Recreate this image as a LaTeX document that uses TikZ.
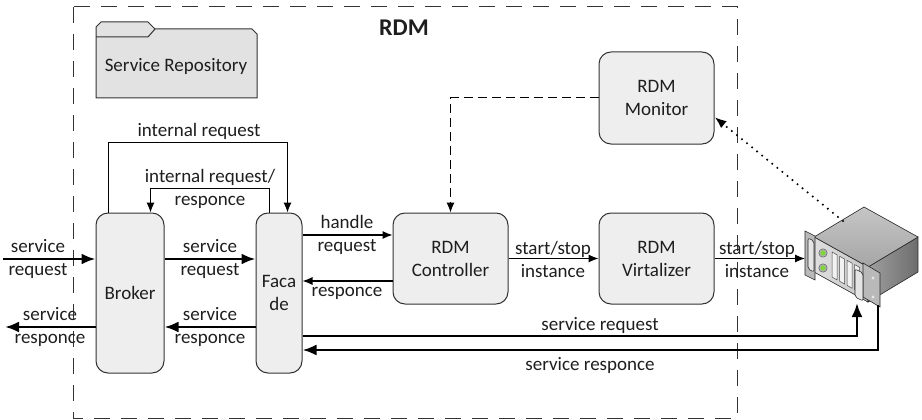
\documentclass[tikz,border=0pt]{standalone}
\usepackage{fontspec}
\setmainfont{Carlito}
\usetikzlibrary{arrows.meta}
\definecolor{boxfill}{HTML}{EEEEEE}
\definecolor{repofill}{HTML}{E2E2E2}
\definecolor{edge}{HTML}{333333}
\definecolor{ink}{HTML}{1E1E1E}
\definecolor{ledgreen}{HTML}{7FD43A}

\begin{document}
\begin{tikzpicture}[x=1pt,y=-1pt,
  font=\fontsize{19}{23}\selectfont, text=ink,
  block/.style={draw=edge, line width=1pt, fill=boxfill, rounded corners=12pt,
                inner sep=0pt, align=center},
  thinarrow/.style={draw=black, line width=1.1pt, -{Latex[length=10pt,width=8pt]}},
  thickarrow/.style={draw=black, line width=2.6pt, -{Latex[length=14pt,width=11pt]}},
  lbl/.style={align=center, inner sep=0pt},
  boundary/.style={draw=edge, line width=1pt, dash pattern=on 16pt off 11pt},
  metal/.style={draw=black!85, line width=0.6pt},
]
\useasboundingbox (0,0) rectangle (922,420);

% RDM boundary
\draw[boundary] (73,7) rectangle (737,418);
\node[font=\fontsize{24}{28}\selectfont\bfseries] (title) at (404,28) {RDM};

% Service repository folder
\draw[draw=edge, line width=1pt, fill=repofill]
  (96,98) -- (96,27) -- (101,22) -- (148,22) -- (155,29) -- (252,29)
  -- (257,34) -- (257,98) -- cycle;
\draw[draw=edge, line width=1pt] (96,37) -- (148,37) -- (155,29);
\node[lbl] (repo) at (176,66) {Service Repository};

% Components
\node[block, minimum width=68pt, minimum height=160pt] (broker) at (130,293) {Broker};
\node[block, minimum width=46pt, minimum height=160pt] (facade) at (279,293) {Faca\\de};
\node[block, minimum width=115pt, minimum height=91pt] (ctrl) at (450.5,258.5) {RDM\\Controller};
\node[block, minimum width=115pt, minimum height=91pt] (virt) at (656.5,258.5) {RDM\\Virtalizer};
\node[block, minimum width=115pt, minimum height=92pt] (mon) at (656.5,98) {RDM\\Monitor};

% Server
\begin{scope}
  % right side
  \shadedraw[metal, left color=gray!75, right color=gray!85!black]
    (868,267) -- (918,237) -- (918,272) -- (868,302) -- cycle;
  % top
  \shadedraw[metal, top color=gray!45, bottom color=gray!70]
    (814,237) -- (864,207) -- (918,237) -- (868,267) -- cycle;
  % front panel
  \shadedraw[metal, left color=gray!25, right color=gray!45]
    (814,237) -- (868,267) -- (868,302) -- (814,272) -- cycle;
  % left rack ear and handle
  \filldraw[metal, fill=gray!55] (805,231) -- (815,236) -- (815,280) -- (805,275) -- cycle;
  \filldraw[metal, fill=gray!20, rounded corners=2pt]
    (808,238) -- (814,241) -- (814,272) -- (808,269) -- cycle;
  % status lamps
  \filldraw[draw=black!70, fill=gray!60] (823,253) circle (4.2);
  \fill[ledgreen] (823,253) circle (2.6);
  \filldraw[draw=black!70, fill=gray!60] (823,268) circle (4.2);
  \fill[ledgreen] (823,268) circle (2.6);
  % drive bays
  \foreach \i in {0,1,2,3} {
    \pgfmathsetmacro{\bx}{832+7.5*\i}
    \pgfmathsetmacro{\by}{237+(\bx-814)*0.556+5}
    \filldraw[draw=black!70, fill=white!90!gray, line width=0.5pt]
      (\bx,\by) -- (\bx+5,\by+2.8) -- (\bx+5,\by+27.8) -- (\bx,\by+25) -- cycle;
  }
  % right rack ear and handle
  \filldraw[metal, fill=gray!55] (863,263) -- (880,273) -- (880,307) -- (863,297) -- cycle;
  \fill[gray!20] (873,278) circle (1.6);
  \fill[gray!20] (873,297) circle (1.6);
  \filldraw[metal, fill=gray!20, rounded corners=2pt]
    (855,269) -- (863,273) -- (863,301) -- (855,297) -- cycle;
\end{scope}
\coordinate (srvin) at (805,258.5);
\coordinate (sreq) at (857,303);
\coordinate (sres) at (878,305);
\coordinate (srvmon) at (843,221);

% Connectors
\coordinate (inL) at (3,259);
\coordinate (outL) at (5,327);
\draw[thickarrow] (inL) -- (broker.west |- inL);
\draw[thickarrow] (broker.east |- inL) -- (facade.west |- inL);
\draw[thickarrow] (facade.west |- outL) -- (broker.east |- outL);
\draw[thickarrow] (broker.west |- outL) -- (outL);

\draw[thinarrow] ([xshift=13pt]broker.north west) -- ++(0,-70) -| ([xshift=32pt]facade.north west);
\draw[thinarrow] ([xshift=14pt]facade.north west) -- ++(0,-24) -| ([xshift=55pt]broker.north west);

\coordinate (hr) at ([yshift=23.5pt]ctrl.west);
\coordinate (rs) at ([yshift=-22.5pt]ctrl.west);
\draw[thinarrow] (facade.east |- hr) -- (hr);
\draw[thinarrow] (rs) -- (facade.east |- rs);
\draw[thinarrow] (ctrl.east) -- (virt.west);
\draw[thinarrow] (virt.east) -- (srvin);

\draw[thickarrow] ([yshift=-43pt]facade.east) -| (sreq);
\draw[thickarrow] (sres) |- ([yshift=-57pt]facade.east);

\draw[draw=black, line width=1pt, dash pattern=on 9pt off 5pt,
      -{Latex[length=10pt,width=8pt]}] (mon.west) -| (ctrl.north);
\draw[draw=black, line width=2.3pt, line cap=round, dash pattern=on 0pt off 6.5pt,
      -{Latex[length=12pt,width=9pt]}] (srvmon) -- ([yshift=-19pt]mon.east);

% Labels
\node[lbl] (l1) at (38,259) {service\\request};
\node[lbl] (l2) at (210,259) {service\\request};
\node[lbl] (l3) at (50,327) {service\\responce};
\node[lbl] (l4) at (210,327) {service\\responce};
\node[lbl] (l5) at (347,235) {handle\\request};
\node[lbl] (l6) at (347,293) {responce};
\node[lbl] (l7) at (553,259) {start/stop\\instance};
\node[lbl] (l8) at (757,259) {start/stop\\instance};
\node[lbl] (l9) at (600,325) {service request};
\node[lbl] (l10) at (590,365) {service responce};
\node[lbl] (l11) at (199,131) {internal request};
\node[lbl] (l12) at (210,189) {internal request/\\responce};
\end{tikzpicture}
\end{document}
